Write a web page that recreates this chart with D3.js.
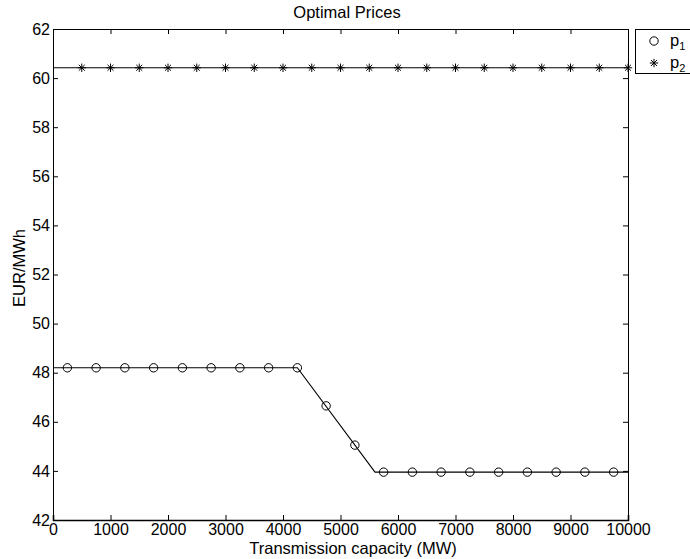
<!DOCTYPE html>
<html>
<head>
<meta charset="utf-8">
<script src="https://cdn.jsdelivr.net/npm/d3@7"></script>
<style>
  html, body { margin: 0; padding: 0; background: #fff; }
  svg { display: block; }
  text { font-family: "Liberation Sans", Arial, Helvetica, sans-serif; fill: #000; }
</style>
</head>
<body>
<svg id="chart" width="690" height="559"></svg>
<script>
// ---- data ----
const titleText = "Optimal Prices";
const xLabelText = "Transmission capacity (MW)";
const yLabelText = "EUR/MWh";
const xTicks = [0, 1000, 2000, 3000, 4000, 5000, 6000, 7000, 8000, 9000, 10000];
const yTicks = [42, 44, 46, 48, 50, 52, 54, 56, 58, 60, 62];

// p1 line vertices
const p1LineX = [0, 4250, 5600, 10000];
const p1LineY = [48.2, 48.2, 43.95, 43.95];
// p1 markers
const p1MarkX = [250, 750, 1250, 1750, 2250, 2750, 3250, 3750, 4250, 4750,
                 5250, 5750, 6250, 6750, 7250, 7750, 8250, 8750, 9250, 9750];
const p1MarkY = [48.2, 48.2, 48.2, 48.2, 48.2, 48.2, 48.2, 48.2, 48.2, 46.65,
                 45.05, 43.95, 43.95, 43.95, 43.95, 43.95, 43.95, 43.95, 43.95, 43.95];
// p2 line vertices
const p2LineX = [0, 10000];
const p2LineY = [60.42, 60.42];
// p2 markers
const p2MarkX = [500, 1000, 1500, 2000, 2500, 3000, 3500, 4000, 4500, 5000,
                 5500, 6000, 6500, 7000, 7500, 8000, 8500, 9000, 9500, 10000];
const p2MarkY = [60.42, 60.42, 60.42, 60.42, 60.42, 60.42, 60.42, 60.42, 60.42, 60.42,
                 60.42, 60.42, 60.42, 60.42, 60.42, 60.42, 60.42, 60.42, 60.42, 60.42];
const legendNames = ["1", "2"];

// ---- layout ----
const svg = d3.select("#chart");
const L = 53, R = 628, T = 29, B = 520;
const x = d3.scaleLinear().domain([0, 10000]).range([L, R]);
const y = d3.scaleLinear().domain([42, 62]).range([B, T]);
const fsTick = 16, fsLab = 16.5;

// axes
const tickLen = 5;
const gB = svg.append("g").attr("transform", `translate(0,${B})`)
  .call(d3.axisBottom(x).tickValues(xTicks).tickSize(-tickLen).tickPadding(4).tickFormat(d3.format("d")));
const gT = svg.append("g").attr("transform", `translate(0,${T})`)
  .call(d3.axisTop(x).tickValues(xTicks).tickSize(-tickLen).tickFormat(""));
const gL = svg.append("g").attr("transform", `translate(${L},0)`)
  .call(d3.axisLeft(y).tickValues(yTicks).tickSize(-tickLen).tickPadding(3).tickFormat(d3.format("d")));
const gR = svg.append("g").attr("transform", `translate(${R},0)`)
  .call(d3.axisRight(y).tickValues(yTicks).tickSize(-tickLen).tickFormat(""));
[gB, gT, gL, gR].forEach(g => {
  g.select(".domain").attr("stroke", "#000").attr("stroke-width", 1);
  g.selectAll(".tick line").attr("stroke", "#000").attr("stroke-width", 1);
  g.selectAll("text").attr("font-size", fsTick).attr("font-family", "Liberation Sans, Arial, sans-serif").attr("fill", "#000");
});
gB.select(".domain").attr("stroke-width", 1.6);

// lines
const line = d3.line().x(d => x(d[0])).y(d => y(d[1]));
svg.append("path").datum(p1LineX.map((v, i) => [v, p1LineY[i]]))
  .attr("d", line).attr("fill", "none").attr("stroke", "#000").attr("stroke-width", 1.1);
svg.append("path").datum(p2LineX.map((v, i) => [v, p2LineY[i]]))
  .attr("d", line).attr("fill", "none").attr("stroke", "#000").attr("stroke-width", 1.1);

// markers
const starPath = (s) => {
  const a = s * 0.7071;
  return `M${-s},0L${s},0M0,${-s}L0,${s}M${-a},${-a}L${a},${a}M${-a},${a}L${a},${-a}`;
};
svg.append("g").selectAll("circle").data(p1MarkX.map((v, i) => [v, p1MarkY[i]]))
  .join("circle").attr("cx", d => x(d[0])).attr("cy", d => y(d[1])).attr("r", 4.2)
  .attr("fill", "none").attr("stroke", "#000").attr("stroke-width", 1);
svg.append("g").selectAll("path").data(p2MarkX.map((v, i) => [v, p2MarkY[i]]))
  .join("path").attr("transform", d => `translate(${x(d[0])},${y(d[1])})`)
  .attr("d", starPath(4.2)).attr("fill", "none").attr("stroke", "#000").attr("stroke-width", 1);

// title & labels
svg.append("text").attr("x", 347).attr("y", 18).attr("text-anchor", "middle")
  .attr("font-size", fsLab).text(titleText);
svg.append("text").attr("x", 353).attr("y", 553.5).attr("text-anchor", "middle")
  .attr("font-size", fsLab).text(xLabelText);
svg.append("text").attr("transform", `translate(25,268) rotate(-90)`)
  .attr("text-anchor", "middle").attr("font-size", fsLab).text(yLabelText);

// legend
const lg = svg.append("g");
lg.append("rect").attr("x", 635.5).attr("y", T + 0.5).attr("width", 60).attr("height", 44)
  .attr("fill", "#fff").attr("stroke", "#000").attr("stroke-width", 1);
legendNames.forEach((n, i) => {
  const cy = T + 12 + i * 22;
  if (i === 0) {
    lg.append("circle").attr("cx", 654).attr("cy", cy).attr("r", 4.2)
      .attr("fill", "none").attr("stroke", "#000");
  } else {
    lg.append("path").attr("transform", `translate(654,${cy})`).attr("d", starPath(4.2))
      .attr("fill", "none").attr("stroke", "#000");
  }
  const t = lg.append("text").attr("x", 670).attr("y", cy + 4.5).attr("font-size", fsLab);
  t.append("tspan").text("p");
  t.append("tspan").attr("dy", 4).attr("font-size", 11).text(n);
});
</script>
</body>
</html>
